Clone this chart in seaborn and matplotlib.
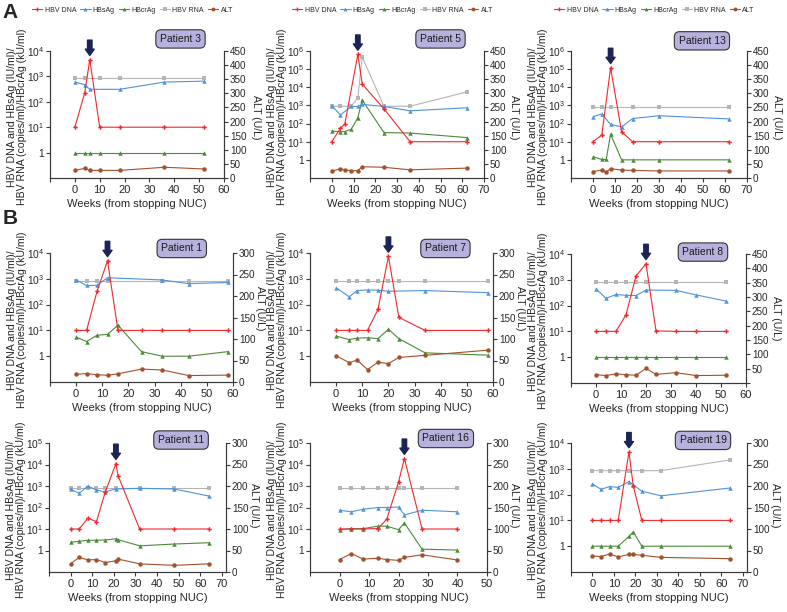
import pandas as pd
import seaborn as sns
import matplotlib.pyplot as plt
from matplotlib.lines import Line2D
from matplotlib.ticker import FixedLocator, FixedFormatter, NullLocator

# Значения (недели от отмены NUC)
p3_weeks = [0, 4, 6, 10, 18, 36, 52]
p3_dna = [10, 230, 4600, 10, 10, 10, 10]
p3_hbsag = [600, 470, 310, None, 310, 600, 650]
p3_hbcrag = [1, 1, 1, 1, 1, 1, 1]
p3_rna = [850, 850, None, 850, 850, 850, 850]
p3_alt = [27, 34, 27, 27, 27, 38, 32]

p5_weeks = [0, 4, 6, 9, 12, 14, 24, 36, 62]
p5_dna = [10, 55, 95, None, 6.5e5, 1.5e4, 650, 10, 10]
p5_hbsag = [960, 300, None, 880, 880, 1140, 880, 505, 740]
p5_hbcrag = [39, 35, 36, 49, 210, 2000, 32, 30, 17]
p5_rna = [900, 900, None, 900, 2700, 4.7e5, 900, 900, 5500]
p5_alt = [24, 33, 29, 26, 26, 40, 38, 29, 35]

p13_weeks = [0, 4, 6, 8, 13, 18, 30, 62]
p13_dna = [10, 23, None, 1.2e5, 35, 10, 10, 10]
p13_hbsag = [240, 340, None, 90, 65, 190, 270, 180]
p13_hbcrag = [1.5, 1.05, 1.05, 26, 1, 1, 1, 1]
p13_rna = [850, 850, None, 850, None, 850, 850, 850]
p13_alt = [23, 28, 21, 33, 28, 27, 25, 25]

p1_weeks = [0, 4, 8, 12, 16, 25, 33, 43, 58]
p1_dna = [10, 10, 330, 5000, 10, 10, 10, 10, 10]
p1_hbsag = [900, 550, 560, 1100, None, None, 900, 650, 720]
p1_hbcrag = [5.5, 3.7, 6.5, 7, 16, 1.5, 1, 1, 1.5]
p1_rna = [850, 850, 850, 850, None, None, 850, 850, 850]
p1_alt = [18, 19.5, 17, 15.6, 19, 30, 28, 15, 16]

p7_weeks = [0, 5, 8, 12, 16, 20, 24, 34, 58]
p7_dna = [10, 10, 10, 10, 65, 7400, 32, 10, 10]
p7_hbsag = [450, 200, 350, 370, 360, 330, None, 350, 290]
p7_hbcrag = [6, 4.4, 5, 5.2, 4.8, 11, 4.8, 1.35, 1.1]
p7_rna = [850, 850, 850, 850, 850, 850, 850, 850, 850]
p7_alt = [61, 45, 51, 29, 46, 43, 57, 62, 74]

p8_weeks = [0, 4, 8, 12, 16, 20, 24, 32, 40, 52]
p8_dna = [10, 10, 10, 44, 1400, 4200, 10.5, 10, 10, 10]
p8_hbsag = [450, 190, 270, 250, 245, 400, None, 390, 260, 150]
p8_hbcrag = [1, 1, 1, 1, 1, 1, 1, 1, 1, 1]
p8_rna = [850, 850, 850, 850, 850, 850, None, 850, None, 850]
p8_alt = [29, 26, 32, 29, 27, 51, 30, 36, 26, 27]

p11_weeks = [0, 4, 8, 12, 16, 21, 22, 32, 48, 64]
p11_dna = [10, 10, 32, 22, 500, 11000, 3000, 10, 10, 10]
p11_hbsag = [700, 460, 1000, 650, 530, 730, None, 780, 730, 340]
p11_hbcrag = [2.4, 2.7, 3.0, 3.0, 3.1, 3.5, 3.2, 1.65, 2.0, 2.3]
p11_rna = [850, 850, 850, 850, 850, 850, None, 850, 850, 850]
p11_alt = [19, 34, 28, 29, 22, 26, 30, 19, 15.5, 19]

p16_weeks = [0, 4, 8, 13, 16, 20, 22, 28, 40]
p16_dna = [10, 10, 10, 10.5, 28, 1500, 19000, 10, 10]
p16_hbsag = [75, 63, 83, 100, 100, 105, 45, 75, 63]
p16_hbcrag = [9.3, 10.4, 10.4, 13.5, 13.5, 9.3, 19, 1.15, 1.05]
p16_rna = [850, 850, 850, 850, 850, 850, 850, 850, 850]
p16_alt = [29, 43, 30, 32, 29, 27, 34, 40, 28]

p19_weeks = [0, 4, 8, 12, 17, 19, 23, 32, 64]
p19_dna = [10, 10, 10, 10, 4500, 220, 10, 10, 10]
p19_hbsag = [260, 160, 205, 190, 320, 240, 135, 90, 180]
p19_hbcrag = [1, 1, 1, 1, 2.4, 3.6, 1, 1, 1]
p19_rna = [850, 850, 850, 850, 850, None, 850, 850, 2200]
p19_alt = [37, 36, 42, 35, 41, 41, 39, 34, 31]

series = ["HBV DNA", "HBsAg", "HBcrAg", "HBV RNA", "ALT"]
colors = {"HBV DNA": "#f0282d", "HBsAg": "#4f93d8", "HBcrAg": "#4c8a38",
          "HBV RNA": "#b5b5b5", "ALT": "#a3512a"}
markers = {"HBV DNA": "P", "HBsAg": "^", "HBcrAg": "^", "HBV RNA": "s", "ALT": "o"}

sns.set_style("ticks")
plt.rcParams['font.family'] = ['Liberation Sans', 'DejaVu Sans']
plt.rcParams['mathtext.fontset'] = 'custom'
plt.rcParams['mathtext.rm'] = 'Liberation Sans'
plt.rcParams['mathtext.default'] = 'regular'

W, H = 787, 612
fig = plt.figure(figsize=(W / 100, H / 100), dpi=100)

# (имя, данные, рамка в пикселях, верх лог-оси, макс ALT, макс x, неделя стрелки,
#  позиция плашки, y и сдвиг подписи ALT, легенда)
panels = [
    ("Patient 3", p3_weeks, p3_dna, p3_hbsag, p3_hbcrag, p3_rna, p3_alt,
     (50, 51, 224, 178), 4, 450, 60, 6, (0.75, 1.095), 0.48, 32, True),
    ("Patient 5", p5_weeks, p5_dna, p5_hbsag, p5_hbcrag, p5_rna, p5_alt,
     (310, 51, 484, 178), 6, 450, 70, 12, (0.75, 1.095), 0.48, 30, True),
    ("Patient 13", p13_weeks, p13_dna, p13_hbsag, p13_hbcrag, p13_rna, p13_alt,
     (571, 51, 747, 178), 6, 450, 70, 8, (0.744, 1.08), 0.48, 30, True),
    ("Patient 1", p1_weeks, p1_dna, p1_hbsag, p1_hbcrag, p1_rna, p1_alt,
     (50, 253, 233, 382), 4, 300, 60, 12, (0.72, 1.035), 0.57, 27, False),
    ("Patient 7", p7_weeks, p7_dna, p7_hbsag, p7_hbcrag, p7_rna, p7_alt,
     (310, 253, 493, 382), 4, 300, 60, 20, (0.74, 1.035), 0.57, 27, False),
    ("Patient 8", p8_weeks, p8_dna, p8_hbsag, p8_hbcrag, p8_rna, p8_alt,
     (571, 254, 746, 383), 4, 450, 60, 20, (0.754, 1.015), 0.5, 30, False),
    ("Patient 11", p11_weeks, p11_dna, p11_hbsag, p11_hbcrag, p11_rna, p11_alt,
     (49, 443, 226, 572), 5, 300, 72, 21, (0.746, 1.023), 0.52, 28, False),
    ("Patient 16", p16_weeks, p16_dna, p16_hbsag, p16_hbcrag, p16_rna, p16_alt,
     (310, 443, 487, 572), 5, 300, 50, 22, (0.768, 1.035), 0.52, 27, False),
    ("Patient 19", p19_weeks, p19_dna, p19_hbsag, p19_hbcrag, p19_rna, p19_alt,
     (571, 443, 747, 572), 4, 300, 72, 17, (0.75, 1.02), 0.52, 28, False),
]

spine_c = "#3a3a3a"
order = ["HBV RNA", "HBcrAg", "HBsAg", "HBV DNA"]

for (name, weeks, dna, hbsag, hbcrag, rna, alt, px, ytop, altmax, xmax,
     arrow_week, boxpos, alt_y, alt_dx, show_legend) in panels:
    l, t, r, b = px
    wpx = r - l
    ax = fig.add_axes([l / W, (H - b) / H, wpx / W, (b - t) / H])

    df = pd.DataFrame({"week": weeks, "HBV DNA": dna, "HBsAg": hbsag,
                       "HBcrAg": hbcrag, "HBV RNA": rna})
    long = df.melt("week", var_name="marker", value_name="value").dropna()
    sns.lineplot(data=long, x="week", y="value", hue="marker", style="marker",
                 hue_order=order, style_order=order, palette=colors,
                 markers=markers, dashes=False, ax=ax, legend=False,
                 linewidth=0.8, markersize=3.2, markeredgewidth=0)

    ax.set_yscale("log")
    ax.set_ylim(0.1, 10 ** ytop)
    yt = [10 ** k for k in range(0, ytop + 1)]
    ax.yaxis.set_major_locator(FixedLocator(yt))
    ax.yaxis.set_major_formatter(FixedFormatter(["1"] + [r"$10^{%d}$" % k for k in range(1, ytop + 1)]))
    ax.yaxis.set_minor_locator(NullLocator())

    ax.set_xlim(-10, xmax)
    xt = list(range(-10, xmax + 1, 10))
    ax.set_xticks(xt)
    ax.set_xticklabels([""] + [str(v) for v in xt[1:]])
    ax.set_xlabel("Weeks (from stopping NUC)", fontsize=8, labelpad=3)
    ax.set_ylabel("")

    ax2 = ax.twinx()
    sns.lineplot(x=weeks, y=alt, ax=ax2, color=colors["ALT"], marker="o",
                 linewidth=0.8, markersize=3.2, markeredgewidth=0)
    ax2.set_ylim(0, altmax)
    at = list(range(0, altmax + 1, 50))
    ax2.set_yticks(at)
    ax2.set_yticklabels([("" if (v == 0 and name == "Patient 8") else str(v)) for v in at])
    ax2.set_ylabel("")

    for a in (ax, ax2):
        a.spines["top"].set_visible(False)
        for s in a.spines.values():
            s.set_color(spine_c)
            s.set_linewidth(0.8)
        a.tick_params(labelsize=8, length=3, width=0.8, color=spine_c, pad=2)
    ax.tick_params(axis="y", labelsize=7.3, pad=1.2)
    ax2.tick_params(axis="y", labelsize=7.1, pad=1.3)

    ax.text(-33 / wpx, 0.48, "HBV DNA and HBsAg (IU/ml)/\nHBV RNA (copies/ml)/HBcrAg (kU/ml)",
            transform=ax.transAxes, rotation=90, ha="center", va="center",
            fontsize=7.6, linespacing=1.12)
    ax2.text(1 + alt_dx / wpx, alt_y, "ALT (U/L)", transform=ax2.transAxes,
             rotation=270, ha="center", va="center", fontsize=7.6)

    ax2.text(boxpos[0], boxpos[1], name, transform=ax2.transAxes, ha="center",
             va="center", fontsize=7.5, color="#1a1a1a", zorder=10,
             bbox=dict(boxstyle="round,pad=0.4,rounding_size=0.5", fc="#b7b1de",
                       ec="#333333", lw=0.8))

    # стрелка над пиком HBV DNA
    peak = max(v for w, v in zip(weeks, dna) if w == arrow_week and v is not None)
    ax.annotate("", xy=(arrow_week, peak), xytext=(0, 14), textcoords="offset points",
                annotation_clip=False,
                arrowprops=dict(arrowstyle="simple,head_length=0.45,head_width=0.65,tail_width=0.32",
                                color="#1c2456", mutation_scale=10, shrinkA=0, shrinkB=3))

    if show_legend:
        handles = [Line2D([0], [0], color=colors[s], marker=markers[s], markersize=2.8,
                          markeredgewidth=0, lw=0.8) for s in series]
        ax.legend(handles, series, loc="center", bbox_to_anchor=(0.474, 1.32),
                  bbox_transform=ax.transAxes, ncol=5, frameon=False, fontsize=5,
                  handlelength=1.5, handletextpad=0.3, columnspacing=0.6, borderpad=0)

fig.text(10 / W, 1 - 12 / H, "A", fontsize=15, fontweight="bold", ha="center", va="center")
fig.text(10 / W, 1 - 218 / H, "B", fontsize=15, fontweight="bold", ha="center", va="center")

fig.savefig("out.png", dpi=100)
